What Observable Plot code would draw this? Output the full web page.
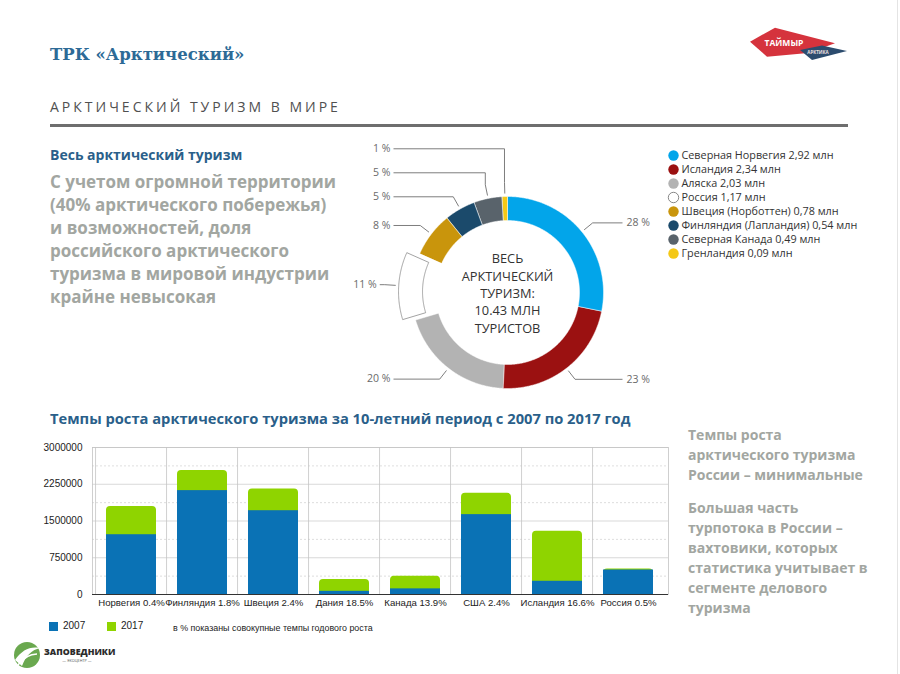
<!DOCTYPE html>
<html>
<head>
<meta charset="utf-8">
<script src="https://cdn.jsdelivr.net/npm/d3@7"></script>
<script src="https://cdn.jsdelivr.net/npm/@observablehq/plot@0.6"></script>
<style>
  html, body { margin: 0; padding: 0; background: #fff; }
  #page { position: relative; width: 900px; height: 674px; overflow: hidden; background: #fff; font-family: "Open Sans", "Noto Sans", sans-serif; }
  .abs { position: absolute; white-space: nowrap; }
  .gray { color: #a2a6a1; font-weight: 700; }
  #donut, #bars { position: absolute; }
  #donut svg, #bars svg { display: block; overflow: visible; }
</style>
</head>
<body>
<div id="page">
  <div class="abs" style="left:50px;top:43px;line-height:24px;font-family:'DejaVu Serif',serif;font-weight:700;font-size:16.5px;color:#2d6a96;">ТРК «Арктический»</div>
  <div class="abs" style="left:50px;top:96px;line-height:22px;font-size:14px;letter-spacing:3px;color:#505050;">АРКТИЧЕСКИЙ ТУРИЗМ В МИРЕ</div>
  <div class="abs" style="left:50px;top:124px;width:798px;height:3px;background:#6e6e6e;"></div>
  <div class="abs" style="left:897px;top:0px;width:1px;height:674px;background:#e4e4e4;"></div>

  <div class="abs" style="left:50px;top:145px;line-height:20px;font-size:14px;font-weight:700;color:#2a5f8a;">Весь арктический туризм</div>
  <div class="abs gray" style="left:50px;top:170px;line-height:23.1px;font-size:17px;">С учетом огромной территории<br>(40% арктического побережья)<br>и возможностей, доля<br>российского арктического<br>туризма в мировой индустрии<br>крайне невысокая</div>

  <div class="abs" style="left:50px;top:408px;line-height:20px;font-size:14.7px;font-weight:700;color:#2a5f8a;">Темпы роста арктического туризма за 10-летний период с 2007 по 2017 год</div>

  <div class="abs gray" style="left:688px;top:425px;line-height:20px;font-size:14px;">Темпы роста<br>арктического туризма<br>России – минимальные</div>
  <div class="abs gray" style="left:688px;top:498px;line-height:20px;font-size:14px;">Большая часть<br>турпотока в России –<br>вахтовики, которых<br>статистика учитывает в<br>сегменте делового<br>туризма</div>

  <!-- bar legend -->
  <div class="abs" style="left:49px;top:622px;width:9px;height:9px;background:#0a72b5;"></div>
  <div class="abs" style="left:63px;top:619px;line-height:14px;font-family:'Liberation Sans',Arial,sans-serif;font-size:10px;color:#222;">2007</div>
  <div class="abs" style="left:107px;top:622px;width:9px;height:9px;background:#8fd400;"></div>
  <div class="abs" style="left:121px;top:619px;line-height:14px;font-family:'Liberation Sans',Arial,sans-serif;font-size:10px;color:#222;">2017</div>
  <div class="abs" style="left:173px;top:621px;line-height:14px;font-family:'Liberation Sans',Arial,sans-serif;font-size:8.9px;color:#222;">в % показаны совокупные темпы годового роста</div>

  <!-- Taymyr logo -->
  <svg class="abs" style="left:740px;top:20px;" width="120" height="50" viewBox="740 20 120 50">
    <polygon points="750,41.7 775,27.7 835,43.3 808,53 767,56.7" fill="#d5333d"/>
    <polygon points="800,50 822,45.5 847,51 812,60" fill="#2c4c6e"/>
    <text x="784" y="45.5" text-anchor="middle" font-family="Open Sans" font-weight="700" font-size="8.5" fill="#fff">ТАЙМЫР</text>
    <text x="818" y="54" text-anchor="middle" font-family="Open Sans" font-weight="700" font-size="4.5" fill="#f0e0e0">АРКТИКА</text>
  </svg>

  <!-- Zapovedniki logo -->
  <svg class="abs" style="left:8px;top:636px;" width="120" height="36" viewBox="8 636 120 36">
    <circle cx="27" cy="655" r="13" fill="#6aa84f"/>
    <path d="M15,660 C22,650 30,646 40,648 C32,650 26,655 22,666 Z" fill="#fff"/>
    <path d="M18,665 C24,657 30,654 37,654" stroke="#fff" stroke-width="1.5" fill="none"/>
    <text x="44" y="655" font-family="Open Sans" font-weight="800" font-size="8.8" fill="#2b2b2b">ЗАПОВЕДНИКИ</text>
    <text x="77" y="662" text-anchor="middle" font-family="Open Sans" font-size="3.8" fill="#555">— ЭКОЦЕНТР —</text>
  </svg>

  <div id="donut" style="left:340px;top:135px;"></div>
  <div id="bars" style="left:40px;top:437px;"></div>
</div>

<script>
// ---------- Donut data ----------
const donutNames = ["Северная Норвегия", "Исландия", "Аляска", "Россия", "Швеция (Норботтен)", "Финляндия (Лапландия)", "Северная Канада", "Гренландия"];
const donutValues = [2.92, 2.34, 2.03, 1.17, 0.78, 0.54, 0.49, 0.09];
const donutPercents = [28, 23, 20, 11, 8, 5, 5, 1];
const donutColors = ["#02a5ea", "#9b1111", "#b3b3b3", "#ffffff", "#c9950c", "#1b4a6b", "#59636b", "#f4c816"];
const centerLabel = "ВЕСЬ\nАРКТИЧЕСКИЙ\nТУРИЗМ:\n10.43 МЛН\nТУРИСТОВ";

// ---------- Bar data ----------
const barCountries = ["Норвегия", "Финляндия", "Швеция", "Дания", "Канада", "США", "Исландия", "Россия"];
const barGrowth = ["0.4%", "1.8%", "2.4%", "18.5%", "13.9%", "2.4%", "16.6%", "0.5%"];
const tourists2007 = [1220000, 2120000, 1710000, 65000, 115000, 1630000, 270000, 500000];
const tourists2017 = [575000, 410000, 445000, 240000, 260000, 435000, 1020000, 20000];
const yTicks = [0, 750000, 1500000, 2250000, 3000000];
const yMinorTicks = [375000, 1125000, 1875000, 2625000];

// ---------- Donut chart ----------
(function () {
  const W = 560, H = 265, X0 = 340, Y0 = 135;
  const cx = 507, cy = 292, R = 96, r = 72, explode = 13;
  const items = donutNames.map((name, i) => ({
    name, value: donutValues[i], pct: donutPercents[i], color: donutColors[i], exploded: name === "Россия"
  }));
  const arcs = d3.pie().sort(null).value(d => d.value)(items);
  const pt = (a, rad, off, mid) => ({
    x: cx + rad * Math.sin(a) + off * Math.sin(mid),
    y: cy - rad * Math.cos(a) - off * Math.cos(mid)
  });
  const marks = [];
  // slices
  arcs.forEach(a => {
    const mid = (a.startAngle + a.endAngle) / 2;
    const off = a.data.exploded ? explode : 0;
    const n = Math.max(2, Math.ceil((a.endAngle - a.startAngle) / (Math.PI / 360)));
    const pts = [];
    for (let k = 0; k <= n; k++) pts.push(pt(a.startAngle + (a.endAngle - a.startAngle) * k / n, R, off, mid));
    for (let k = n; k >= 0; k--) pts.push(pt(a.startAngle + (a.endAngle - a.startAngle) * k / n, r, off, mid));
    marks.push(Plot.line(pts, {
      x: "x", y: "y", curve: "linear-closed",
      fill: a.data.color,
      stroke: a.data.exploded ? "#8c8c8c" : "#ffffff",
      strokeWidth: a.data.exploded ? 0.8 : 0.5,
      strokeLinejoin: "miter"
    }));
  });
  // leader lines & percent labels
  const labels = arcs.map(a => {
    const mid = (a.startAngle + a.endAngle) / 2;
    const off = a.data.exploded ? explode : 0;
    const anchor = pt(mid, R + 3 + off, 0, mid);
    const elbow = pt(mid, R + 14 + off, 0, mid);
    return { a, mid, anchor, elbow, side: Math.sin(mid) >= 0 ? 1 : -1, labelY: elbow.y };
  });
  // resolve collisions on the left side going upward
  const left = labels.filter(l => l.side < 0).sort((p, q) => p.mid - q.mid);
  for (let k = 1; k < left.length; k++) left[k].labelY = Math.min(left[k].labelY, left[k - 1].labelY - 24);
  labels.forEach(l => {
    const end = l.side < 0 ? Math.min(393, l.elbow.x - 5) : Math.max(622, l.elbow.x + 5);
    const path = [l.anchor, l.elbow, { x: l.elbow.x, y: l.labelY }, { x: end, y: l.labelY }];
    marks.push(Plot.line(path, { x: "x", y: "y", stroke: "#6f6f6f", strokeWidth: 0.9, strokeLinejoin: "miter", strokeLinecap: "butt" }));
    l.textX = l.side < 0 ? end - 3 : end + 4;
  });
  const pctText = l => `${l.a.data.pct} %`;
  marks.push(Plot.text(labels.filter(l => l.side < 0), { x: "textX", y: "labelY", text: pctText, textAnchor: "end", fontSize: 10.5, fill: "#6a6a6a" }));
  marks.push(Plot.text(labels.filter(l => l.side > 0), { x: "textX", y: "labelY", text: pctText, textAnchor: "start", fontSize: 10.5, fill: "#6a6a6a" }));
  // center label
  marks.push(Plot.text([centerLabel], {
    x: () => cx, y: () => cy, text: d => d, lineHeight: 1.36, fontSize: 12.8, fill: "#333", textAnchor: "middle"
  }));
  // legend
  const legend = items.map((d, i) => ({ ...d, lx: 673, ly: 155 + i * 14, label: `${d.name} ${d.value.toFixed(2).replace(".", ",")} млн` }));
  marks.push(Plot.dot(legend, { x: "lx", y: "ly", r: 5.2, fill: "color", stroke: d => (d.exploded ? "#7a7a7a" : "none"), strokeWidth: 0.9 }));
  marks.push(Plot.text(legend, { x: d => d.lx + 8, y: "ly", text: "label", textAnchor: "start", fontSize: 10.8, fill: "#333" }));

  const chart = Plot.plot({
    width: W, height: H, margin: 0,
    x: { domain: [X0, X0 + W], range: [0, W], axis: null },
    y: { domain: [Y0, Y0 + H], range: [0, H], axis: null },
    color: { type: "identity" },
    style: { fontFamily: "Open Sans", background: "transparent", overflow: "visible" },
    marks
  });
  document.getElementById("donut").appendChild(chart);
})();

// ---------- Bar chart ----------
(function () {
  const W = 640, H = 178, mL = 52, mR = 12, mT = 10, mB = 21;
  const pIn = 0.29, pOut = 0.15;
  const data = barCountries.map((c, i) => ({
    label: `${c} ${barGrowth[i]}`, v07: tourists2007[i], v17: tourists2017[i], total: tourists2007[i] + tourists2017[i]
  }));
  const domain = data.map(d => d.label);
  const step = (W - mL - mR) / (domain.length - pIn + 2 * pOut);
  const chart = Plot.plot({
    width: W, height: H, marginLeft: mL, marginRight: mR, marginTop: mT, marginBottom: mB,
    x: { domain, paddingInner: pIn, paddingOuter: pOut, label: null },
    y: { domain: [0, 3000000], label: null },
    style: { fontFamily: "Liberation Sans, Arial, sans-serif", fontSize: "9.6px", color: "#222", background: "transparent", overflow: "visible" },
    marks: [
      Plot.ruleY(yMinorTicks, { stroke: "#d6d6d6", strokeDasharray: "2,2", strokeWidth: 0.8 }),
      Plot.ruleY(yTicks, { stroke: "#cfcfcf", strokeWidth: 0.8 }),
      Plot.ruleX(domain, { x: d => d, dx: -step / 2, stroke: "#c4c4c4", strokeWidth: 0.8 }),
      Plot.frame({ stroke: "#c4c4c4", strokeWidth: 0.8 }),
      Plot.barY(data, { x: "label", y1: 0, y2: "total", fill: "#8fd400", rx: 4 }),
      Plot.barY(data, { x: "label", y1: 0, y2: "v07", fill: "#0a72b5" }),
      Plot.ruleY([0], { stroke: "#333", strokeWidth: 1 }),
      Plot.axisY(yTicks, { tickSize: 0, tickPadding: 10, tickFormat: d => String(d), label: null, fill: "#222", fontSize: 10 }),
      Plot.axisX({ tickSize: 0, tickPadding: 5, label: null, fill: "#222", fontSize: 9.6 })
    ]
  });
  document.getElementById("bars").appendChild(chart);
})();
</script>
</body>
</html>
